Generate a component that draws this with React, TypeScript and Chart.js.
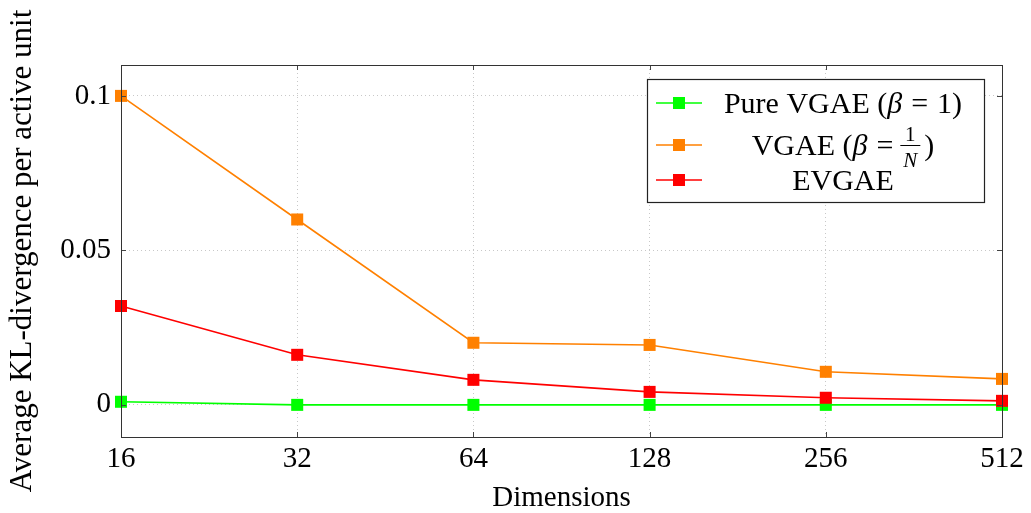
import React, { useEffect, useRef } from "react";
import { Chart, registerables } from "chart.js";

Chart.register(...registerables);

const dimensions = ["16", "32", "64", "128", "256", "512"];
const pureVgae = [0.001, 0.0, 0.0, 0.0, 0.0, 0.0];
const vgaeInvN = [0.1, 0.06, 0.0201, 0.0194, 0.0107, 0.0084];
const evgae = [0.032, 0.0162, 0.0081, 0.0042, 0.0023, 0.0013];
const yTicks = [0, 0.05, 0.1];

const FONT = "'Liberation Serif', 'Times New Roman', serif";
const GREEN = "#00ff00";
const ORANGE = "#ff8000";
const RED = "#ff0000";

const frameAndLegend = {
  id: "frameAndLegend",
  afterDraw(chart: any) {
    const { ctx, chartArea } = chart;
    const { left, right, top, bottom } = chartArea;
    ctx.save();
    // inward ticks on all sides
    ctx.strokeStyle = "#444";
    ctx.lineWidth = 1;
    const xs = chart.scales.x;
    const ys = chart.scales.y;
    const tl = 5;
    ctx.beginPath();
    xs.ticks.forEach((_t: any, i: number) => {
      const px = Math.round(xs.getPixelForTick(i)) + 0.5;
      ctx.moveTo(px, bottom);
      ctx.lineTo(px, bottom - tl);
      ctx.moveTo(px, top);
      ctx.lineTo(px, top + tl);
    });
    ys.ticks.forEach((t: any) => {
      const py = Math.round(ys.getPixelForValue(t.value)) + 0.5;
      ctx.moveTo(left, py);
      ctx.lineTo(left + tl, py);
      ctx.moveTo(right, py);
      ctx.lineTo(right - tl, py);
    });
    ctx.stroke();
    // frame
    ctx.strokeStyle = "#333";
    ctx.strokeRect(Math.round(left) + 0.5, Math.round(top) + 0.5, Math.round(right - left), Math.round(bottom - top));

    // legend
    const bx = right - 355;
    const by = top + 14;
    const bw = 337;
    const bh = 123;
    ctx.fillStyle = "#fff";
    ctx.fillRect(bx, by, bw, bh);
    ctx.strokeStyle = "#222";
    ctx.lineWidth = 1.2;
    ctx.strokeRect(bx + 0.5, by + 0.5, bw, bh);

    const rows = [
      { color: GREEN, y: by + 24 },
      { color: ORANGE, y: by + 66 },
      { color: RED, y: by + 101 },
    ];
    const textCx = bx + 196;
    rows.forEach((r) => {
      ctx.strokeStyle = r.color;
      ctx.lineWidth = 1.6;
      ctx.beginPath();
      ctx.moveTo(bx + 9, r.y);
      ctx.lineTo(bx + 55, r.y);
      ctx.stroke();
      ctx.fillStyle = r.color;
      ctx.fillRect(bx + 26, r.y - 6, 12, 12);
    });

    ctx.fillStyle = "#000";
    ctx.textBaseline = "alphabetic";
    const fs = 30;
    const base = (y: number) => y + 10;
    const drawSeq = (segs: { t: string; f: string; dx?: number }[], cx: number, y: number) => {
      let total = 0;
      const widths = segs.map((s) => {
        ctx.font = s.f;
        const w = ctx.measureText(s.t).width + (s.dx || 0);
        total += w;
        return w;
      });
      let x = cx - total / 2;
      ctx.textAlign = "left";
      segs.forEach((s, i) => {
        ctx.font = s.f;
        ctx.fillText(s.t, x, y);
        x += widths[i];
      });
      return x;
    };
    const rm = `${fs}px ${FONT}`;
    const it = `italic ${fs}px ${FONT}`;
    drawSeq(
      [
        { t: "Pure VGAE (", f: rm },
        { t: "β", f: it, dx: 9 },
        { t: "=", f: rm, dx: 9 },
        { t: "1)", f: rm },
      ],
      textCx,
      base(rows[0].y)
    );
    // row 2 with fraction
    {
      const segs = [
        { t: "VGAE (", f: rm },
        { t: "β", f: it, dx: 9 },
        { t: "=", f: rm, dx: 7 },
      ];
      let total = 0;
      const ws = segs.map((s) => {
        ctx.font = s.f;
        const w = ctx.measureText(s.t).width + (s.dx || 0);
        total += w;
        return w;
      });
      const fracW = 20;
      ctx.font = rm;
      const parW = ctx.measureText(")").width;
      total += fracW + 4 + parW;
      let x = textCx - total / 2;
      const y = base(rows[1].y);
      ctx.textAlign = "left";
      segs.forEach((s, i) => {
        ctx.font = s.f;
        ctx.fillText(s.t, x, y);
        x += ws[i];
      });
      const fx = x + fracW / 2;
      ctx.textAlign = "center";
      ctx.font = `21px ${FONT}`;
      ctx.fillText("1", fx, y - 14);
      ctx.font = `italic 21px ${FONT}`;
      ctx.fillText("N", fx, y + 12);
      ctx.strokeStyle = "#000";
      ctx.lineWidth = 1;
      ctx.beginPath();
      ctx.moveTo(x, y - 9.5);
      ctx.lineTo(x + fracW, y - 9.5);
      ctx.stroke();
      x += fracW + 4;
      ctx.textAlign = "left";
      ctx.font = rm;
      ctx.fillText(")", x, y);
    }
    drawSeq([{ t: "EVGAE", f: rm }], textCx, base(rows[2].y));
    ctx.restore();
  },
};

export default function App() {
  const ref = useRef<HTMLCanvasElement>(null);
  useEffect(() => {
    document.body.style.margin = "0";
    const mk = (label: string, data: number[], color: string) => ({
      label,
      data,
      borderColor: color,
      backgroundColor: color,
      borderWidth: 1.6,
      pointStyle: "rect",
      pointRadius: 8.5,
      pointHoverRadius: 8.5,
      pointBorderWidth: 0,
      tension: 0,
      clip: false,
    });
    const chart = new Chart(ref.current!, {
      type: "line",
      data: {
        labels: dimensions,
        datasets: [
          mk("EVGAE", evgae, RED),
          mk("VGAE (β = 1/N)", vgaeInvN, ORANGE),
          mk("Pure VGAE (β = 1)", pureVgae, GREEN),
        ] as any,
      },
      plugins: [frameAndLegend],
      options: {
        animation: false,
        responsive: false,
        devicePixelRatio: 1,
        layout: { padding: { top: 65, right: 29, left: 0, bottom: 0 } },
        plugins: { legend: { display: false }, tooltip: { enabled: false } },
        scales: {
          x: {
            type: "category",
            offset: false,
            grid: {
              color: "#c8c8c8",
              lineWidth: 1,
              drawTicks: false,
            },
            border: { display: false, dash: [1, 3] },
            ticks: {
              color: "#000",
              font: { family: FONT, size: 29 },
              padding: 5,
              maxRotation: 0,
            },
            title: {
              display: true,
              text: "Dimensions",
              color: "#000",
              font: { family: FONT, size: 29, lineHeight: 1 },
              padding: { top: -4, bottom: 0 },
            },
            afterFit(scale: any) {
              scale.height = 76;
            },
          },
          y: {
            min: -0.0104,
            max: 0.110,
            afterBuildTicks(scale: any) {
              scale.ticks = yTicks.map((v) => ({ value: v }));
            },
            grid: {
              color: "#c8c8c8",
              lineWidth: 1,
              drawTicks: false,
            },
            border: { display: false, dash: [1, 3] },
            ticks: {
              color: "#000",
              font: { family: FONT, size: 29 },
              padding: 10,
              callback: (v: any) => String(Number(v)),
            },
            title: {
              display: true,
              text: "Average KL-divergence per active unit",
              color: "#000",
              font: { family: FONT, size: 31, lineHeight: 1 },
              padding: { top: 7, bottom: 0 },
            },
            afterFit(scale: any) {
              scale.width = 121;
            },
          },
        },
      } as any,
    });
    return () => chart.destroy();
  }, []);
  return (
    <div style={{ position: "fixed", left: 0, top: 0, width: 1031, height: 513 }}>
      <canvas ref={ref} width={1031} height={513} style={{ width: 1031, height: 513, display: "block" }} />
    </div>
  );
}
